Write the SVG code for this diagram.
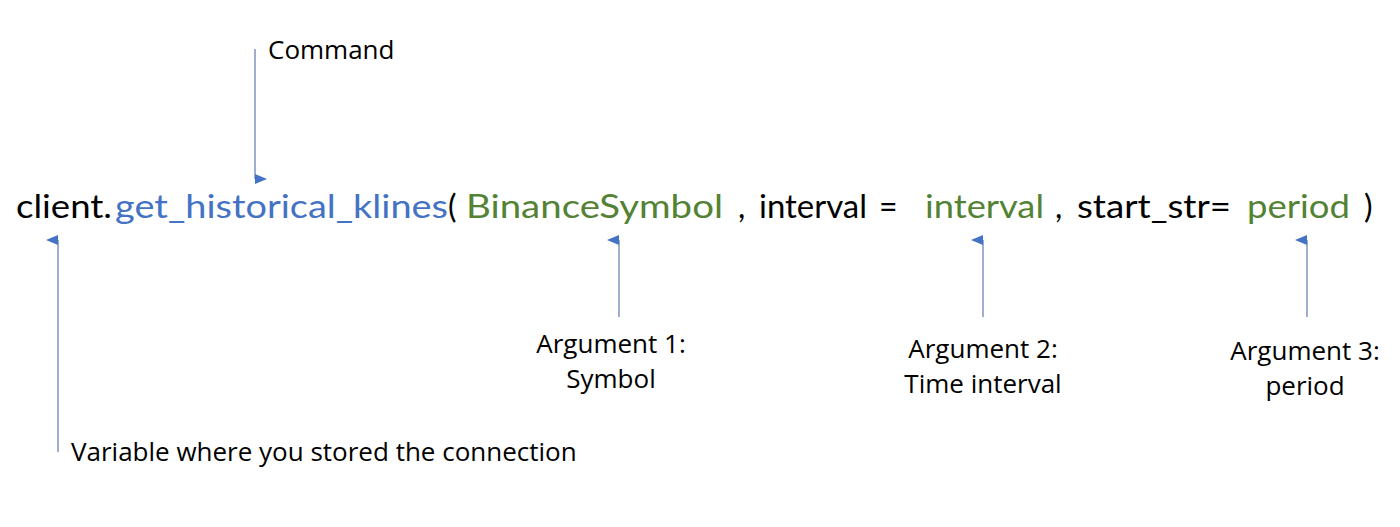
<svg xmlns="http://www.w3.org/2000/svg" width="1400" height="527" viewBox="0 0 1400 527">
<defs>
<marker id="ah" viewBox="0 0 10 12" refX="5" refY="12" markerWidth="10" markerHeight="12" markerUnits="userSpaceOnUse" orient="auto-start-reverse">
<path d="M0,12 L5,0 L10,12 Z" fill="#4472C4"/>
</marker>
<style>
.code{font-family:Lato,"Noto Sans",sans-serif;font-size:32px;fill:#000}
.blue{fill:#4472C4}
.green{fill:#548235}
.lbl{font-family:"Open Sans","Liberation Sans",sans-serif;font-size:26px;fill:#000}
.conn{stroke:#7f93c0;stroke-width:1.5;fill:none}
</style>
</defs>
<rect width="1400" height="527" fill="#fff"/>
<g id="code-line">
<text class="code" y="218"><tspan x="16" textLength="96" lengthAdjust="spacingAndGlyphs">client.</tspan><tspan x="115" class="blue" textLength="333" lengthAdjust="spacingAndGlyphs">get_historical_klines</tspan><tspan x="448">(</tspan><tspan x="466" class="green" textLength="257" lengthAdjust="spacingAndGlyphs">BinanceSymbol</tspan><tspan x="738">,</tspan><tspan x="759" textLength="108" lengthAdjust="spacingAndGlyphs">interval</tspan><tspan x="879">=</tspan><tspan x="925" class="green" textLength="119" lengthAdjust="spacingAndGlyphs">interval</tspan><tspan x="1055">,</tspan><tspan x="1077" textLength="154" lengthAdjust="spacingAndGlyphs">start_str=</tspan><tspan x="1247" class="green" textLength="103" lengthAdjust="spacingAndGlyphs">period</tspan><tspan x="1364">)</tspan></text>
</g>
<g id="label-command">
<text class="lbl" x="268" y="59">Command</text>
</g>
<g id="label-variable">
<text class="lbl" x="71" y="461">Variable where you stored the connection</text>
</g>
<g id="label-arg1">
<text class="lbl" text-anchor="middle" x="611" y="353">Argument 1:</text>
<text class="lbl" text-anchor="middle" x="611" y="388">Symbol</text>
</g>
<g id="label-arg2">
<text class="lbl" text-anchor="middle" x="983" y="358">Argument 2:</text>
<text class="lbl" text-anchor="middle" x="983" y="393">Time interval</text>
</g>
<g id="label-arg3">
<text class="lbl" text-anchor="middle" x="1305" y="360">Argument 3:</text>
<text class="lbl" text-anchor="middle" x="1305" y="395">period</text>
</g>
<g id="connectors">
<line class="conn" x1="255" y1="49" x2="255" y2="179" marker-end="url(#ah)"/>
<line class="conn" x1="58" y1="452" x2="58" y2="240" marker-end="url(#ah)"/>
<line class="conn" x1="619" y1="317" x2="619" y2="240" marker-end="url(#ah)"/>
<line class="conn" x1="983" y1="317" x2="983" y2="240" marker-end="url(#ah)"/>
<line class="conn" x1="1307" y1="317" x2="1307" y2="240" marker-end="url(#ah)"/>
</g>
</svg>
